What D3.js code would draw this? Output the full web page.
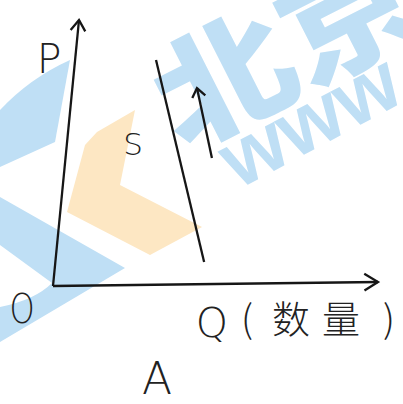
<!DOCTYPE html>
<html>
<head>
<meta charset="utf-8">
<script src="https://cdn.jsdelivr.net/npm/d3@7"></script>
<style>
body { margin: 0; background: #fff; }
</style>
</head>
<body>
<div id="chart"></div>
<script>
var svgWidth = 403;
var svgHeight = 404;

// lines in chart units, origin O = [0, 0]
var pAxis = [[0, 0], [8, 100]];
var qAxis = [[0, 0], [100, 1.5]];
var supplyS = [[31.7, 85], [46.5, 9]];
var shiftArrow = [[48.9, 48.1], [44.3, 74.4]];

// text
var axisNames = ["P", "O", "Q"];
var qUnit = ["(", "数", "量", ")"];
var curveNames = ["S"];
var panelName = ["A"];

//Create scales
var x = d3.scaleLinear().domain([0, 100]).range([53, 378]);
var y = d3.scaleLinear().domain([0, 100]).range([286, 20]);

var svg = d3.select("#chart")
    .append("svg")
    .attr("width", svgWidth)
    .attr("height", svgHeight);

//watermark (background)
var wm = svg.append("g");
wm.append("path").attr("d", "M0,110 Q30,78 70,60 L55,142 L0,167 Z").attr("fill", "#bfdff5");
wm.append("path").attr("d", "M0,197 L125,268 L0,342 L0,307 Q35,300 52,283 L0,245 Z").attr("fill", "#bfdff5");
wm.append("path").attr("d", "M135,110 L120,185 L202,227 L150,255 L67,212 L85,145 L97,132 Z").attr("fill", "#fde7c3");
wm.append("text")
    .attr("transform", "translate(158,104) rotate(-27) scale(1.15,1)")
    .attr("dominant-baseline", "central")
    .style("font-family", "'Noto Sans CJK SC'")
    .style("font-weight", "900")
    .style("font-size", "122px")
    .attr("fill", "#bfdff5")
    .text("北京");
wm.append("text")
    .attr("transform", "translate(238,190) rotate(-28)")
    .style("font-family", "'Liberation Sans'")
    .style("font-weight", "bold")
    .style("font-size", "82px")
    .attr("fill", "#bfdff5")
    .text("www");

//lines
var line = d3.line().x(d => x(d[0])).y(d => y(d[1]));
var ink = "#161616";

function drawArrow(pts, len, spread) {
    svg.append("path")
        .attr("d", line(pts))
        .attr("fill", "none")
        .attr("stroke", ink)
        .attr("stroke-width", 2.3);
    if (!len) return;
    var a = [x(pts[0][0]), y(pts[0][1])];
    var b = [x(pts[1][0]), y(pts[1][1])];
    var ang = Math.atan2(a[1] - b[1], a[0] - b[0]);
    var w1 = [b[0] + len * Math.cos(ang + spread), b[1] + len * Math.sin(ang + spread)];
    var w2 = [b[0] + len * Math.cos(ang - spread), b[1] + len * Math.sin(ang - spread)];
    svg.append("path")
        .attr("d", d3.line()([w1, b, w2]))
        .attr("fill", "none")
        .attr("stroke", ink)
        .attr("stroke-width", 2.3)
        .attr("stroke-linejoin", "miter");
}

drawArrow(pAxis, 13, 0.6);
drawArrow(qAxis, 16, 0.55);
drawArrow(supplyS, 0, 0);
drawArrow(shiftArrow, 11, 0.65);

//labels
var thin = "'DejaVu Sans'";
function label(t, px, py, size, anchor) {
    return svg.append("text")
        .attr("x", px)
        .attr("y", py)
        .attr("text-anchor", anchor || "middle")
        .style("font-family", thin)
        .style("font-weight", "200")
        .style("font-size", size + "px")
        .attr("fill", "#222")
        .text(t);
}
label(axisNames[0], 49, 73, 41);
label(axisNames[1], 22, 323, 40).attr("transform", "translate(22,0) scale(0.8,1) translate(-22,0)");
label(axisNames[2], 212, 337, 41);
label(curveNames[0], 133, 155, 31);
label(panelName[0], 157, 394, 44);

var unit = svg.append("text")
    .attr("y", 333)
    .style("font-family", "'Noto Sans CJK SC'")
    .style("font-size", "38px")
    .style("font-weight", "300")
    .attr("fill", "#222");
var ux = [241, 272, 322, 383];
qUnit.forEach(function(c, i) {
    unit.append("tspan").attr("x", ux[i]).text(c);
});
</script>
</body>
</html>
